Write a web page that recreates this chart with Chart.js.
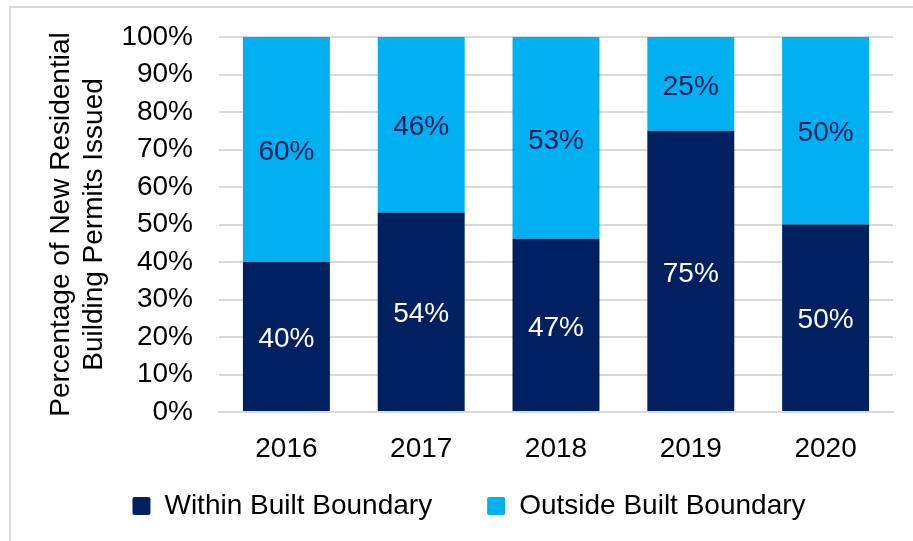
<!DOCTYPE html>
<html>
<head>
<meta charset="utf-8">
<script src="https://cdn.jsdelivr.net/npm/chart.js@4/dist/chart.umd.min.js"></script>
<style>
  body { margin: 0; background: #fff; }
  #wrap { position: relative; width: 913px; height: 541px; overflow: hidden; }
  #frame { position: absolute; left: 9px; top: 6px; width: 920px; height: 600px;
           border-top: 2px solid #d9d9d9; border-left: 2px solid #d9d9d9; }
  #permitsCanvas { position: absolute; left: 0; top: 0; }
</style>
</head>
<body>
<div id="wrap">
  <div id="frame"></div>
  <canvas id="permitsCanvas" width="913" height="541"></canvas>
</div>
<script>
// chart data
var years = ["2016", "2017", "2018", "2019", "2020"];
var withinValues = [40, 53.2, 46.2, 75, 50];
var outsideValues = [60, 46.8, 53.8, 25, 50];
var withinLabels = ["40%", "54%", "47%", "75%", "50%"];
var outsideLabels = ["60%", "46%", "53%", "25%", "50%"];
var yTicks = [0, 10, 20, 30, 40, 50, 60, 70, 80, 90, 100];

var NAVY = "#002060";
var CYAN = "#00B0F0";
var FONT = "'Liberation Sans', Arial, sans-serif";
var FSIZE = 28;

// draws the % labels in the middle of each bar segment
var barLabels = {
    id: "barLabels",
    afterDatasetsDraw: function(chart) {
        var ctx = chart.ctx;
        ctx.save();
        ctx.font = FSIZE + "px " + FONT;
        ctx.textAlign = "center";
        ctx.textBaseline = "middle";
        chart.data.datasets.forEach(function(ds, i) {
            var meta = chart.getDatasetMeta(i);
            meta.data.forEach(function(bar, j) {
                ctx.fillStyle = ds.labelColor;
                ctx.fillText(ds.valueLabels[j], bar.x, (bar.y + bar.base) / 2 + 3);
            });
        });
        ctx.restore();
    }
};

// the legend keeps a wide gap between items (padding 55), so pull it up
// a bit over the empty part of the x axis box
var liftLegend = {
    id: "liftLegend",
    afterLayout: function(chart) {
        chart.legend.top -= 35;
        chart.legend.bottom -= 35;
    }
};

var canvas = document.getElementById("permitsCanvas");
var myChart = new Chart(canvas, {
    type: "bar",
    data: {
        labels: years,
        datasets: [{
            label: "Within Built Boundary",
            data: withinValues,
            backgroundColor: NAVY,
            valueLabels: withinLabels,
            labelColor: "#ffffff"
        }, {
            label: "Outside Built Boundary",
            data: outsideValues,
            backgroundColor: CYAN,
            valueLabels: outsideLabels,
            labelColor: NAVY
        }]
    },
    plugins: [barLabels, liftLegend],
    options: {
        responsive: false,
        animation: false,
        layout: { padding: { top: 37, right: 20, bottom: -24, left: 45 } },
        datasets: {
            bar: { barPercentage: 1, categoryPercentage: 0.645, borderWidth: 0 }
        },
        plugins: {
            legend: {
                position: "bottom",
                labels: {
                    font: { family: FONT, size: FSIZE },
                    color: "#000",
                    boxWidth: 18,
                    boxHeight: 18,
                    useBorderRadius: true,
                    borderRadius: 2,
                    padding: 55
                }
            },
            tooltip: { enabled: false }
        },
        scales: {
            x: {
                stacked: true,
                grid: { display: false },
                border: { color: "#d9d9d9", width: 2 },
                ticks: { color: "#000", font: { family: FONT, size: FSIZE }, padding: 12 },
                afterFit: function(scale) { scale.height = 60; }
            },
            y: {
                stacked: true,
                min: 0,
                max: 100,
                afterBuildTicks: function(scale) {
                    scale.ticks = yTicks.map(function(v) { return { value: v }; });
                },
                grid: { color: "#d9d9d9", lineWidth: 2, drawTicks: true, tickLength: 26, tickColor: "rgba(0,0,0,0)" },
                border: { display: false },
                ticks: {
                    color: "#000",
                    font: { family: FONT, size: FSIZE },
                    padding: 0,
                    callback: function(v) { return v + "%"; }
                },
                title: {
                    display: true,
                    text: ["Percentage of New Residential", "Building Permits Issued"],
                    color: "#000",
                    font: { family: FONT, size: FSIZE, lineHeight: 1.18 },
                    padding: { top: 0, bottom: 0 }
                },
                afterFit: function(scale) { scale.width = 174; }
            }
        }
    }
});
</script>
</body>
</html>
